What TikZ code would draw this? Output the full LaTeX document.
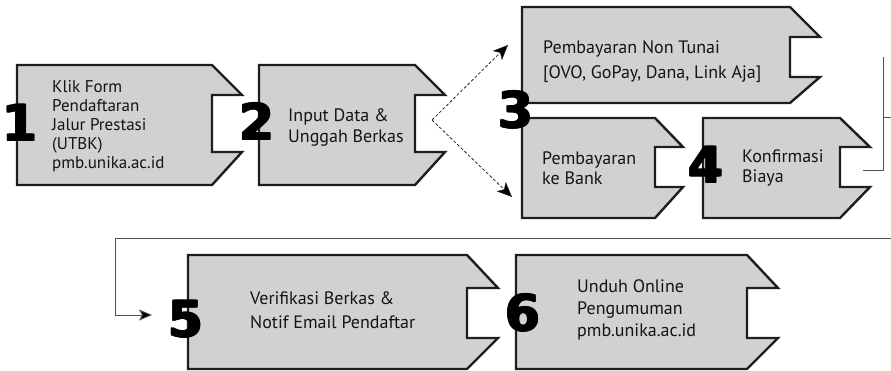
\documentclass[tikz,border=0pt]{standalone}
\usepackage{fontspec}
\setmainfont{PT Sans}
\newfontfamily\numfont{DejaVu Sans}
\usetikzlibrary{arrows.meta}
\definecolor{tagfill}{HTML}{D0D1D3}
\definecolor{tagline}{HTML}{1E1E1E}
\definecolor{conn}{HTML}{505050}
\definecolor{txt}{HTML}{141414}
\tikzset{
  tagbox/.style={fill=tagfill, draw=tagline, line width=2.4pt, line join=miter},
  lbl/.style={anchor=west, align=left, inner sep=0pt, text=txt, font=\fontsize{18}{20}\selectfont},
  num/.style={inner sep=0pt, text=black, font=\numfont\bfseries\fontsize{50}{50}\selectfont},
  flow/.style={draw=conn, line width=0.9pt},
  dotarrow/.style={draw=black!85, densely dashed, line width=0.8pt, -{Stealth[length=15pt,width=13pt,inset=4pt,fill=black,line width=0.5pt]}},
  flowarrow/.style={flow, -{Stealth[length=13pt,width=11pt,inset=3pt,fill=black]}},
}
% x0, top, bottom, xr (notch x), point x, notch top, notch bottom
\newcommand\tagshape[7]{%
  \path[tagbox] (#1,#2) -- (#4,#2) -- (#5,#6) -- (#4,#6) -- (#4,#7) -- (#5,#7) -- (#4,#3) -- (#1,#3) -- cycle;}
\newcommand\heavy[1]{\rlap{\kern2pt #1}\rlap{\kern1pt #1}\rlap{\raisebox{1pt}{#1}}\rlap{\raisebox{1pt}{\kern2pt #1}}#1}
\begin{document}
\begin{tikzpicture}[x=1pt,y=-1pt]
\useasboundingbox (0,0) rectangle (891,370);
% shapes
\tagshape{17}{65}{185}{212}{242}{95}{152}
\tagshape{259}{65}{185}{415}{445}{95}{152}
\tagshape{522}{7}{103}{790}{820}{37}{77}
\tagshape{522}{118}{218}{655}{683}{147}{187}
\tagshape{703}{118}{218}{840}{870}{147}{187}
\tagshape{188}{255}{369}{467}{498}{288}{338}
\tagshape{516}{255}{369}{747}{778}{288}{338}
% labels
\node[lbl, font=\fontsize{17}{19}\selectfont] (t1) at (52,126) {Klik Form\\Pendaftaran\\Jalur Prestasi\\(UTBK)\\pmb.unika.ac.id};
\node[lbl, font=\fontsize{18}{21}\selectfont] (t2) at (288,127) {Input Data \&\\Unggah Berkas};
\node[lbl, font=\fontsize{18}{25}\selectfont] (t3a) at (543,62) {Pembayaran Non Tunai\\{[OVO, GoPay, Dana, Link Aja]}};
\node[lbl, font=\fontsize{18}{20}\selectfont] (t3b) at (542,168) {Pembayaran\\ke Bank};
\node[lbl, font=\fontsize{18}{20}\selectfont] (t4) at (742,168) {Konfirmasi\\Biaya};
\node[lbl, font=\fontsize{18}{24}\selectfont] (t5) at (250,310) {Verifikasi Berkas \&\\Notif Email Pendaftar};
\node[lbl, font=\fontsize{18}{22}\selectfont] (t6) at (577,310) {Unduh Online\\Pengumuman\\pmb.unika.ac.id};
% numbers
\node[num] (n1) at (19,123) {\heavy{1}};
\node[num] (n2) at (256,121) {\heavy{2}};
\node[num] (n3) at (515,110) {\heavy{3}};
\node[num] (n4) at (705,165) {\heavy{4}};
\node[num] (n5) at (185,319) {\heavy{5}};
\node[num] (n6) at (522,313) {\heavy{6}};
% connectors
\coordinate (s2out) at (432,120);
\coordinate (a3top) at (508,45);
\coordinate (a3bot) at (512,197);
\draw[dotarrow] (s2out) -- (a3top);
\draw[dotarrow] (s2out) -- (a3bot);
\coordinate (s4out) at (863,170);
\coordinate (c1) at (883,170);
\coordinate (c2) at (883,57);
\coordinate (c3) at (883,117);
\coordinate (c4) at (891,117);
\draw[flow] (s4out) -- (c1) -- (c2);
\draw[flow] (c3) -- (c4);
\coordinate (r1) at (891,238);
\coordinate (r2) at (115,238);
\coordinate (r3) at (115,315);
\coordinate (a5) at (152,315);
\draw[flowarrow] (r1) -- (r2) -- (r3) -- (a5);
\end{tikzpicture}
\end{document}
